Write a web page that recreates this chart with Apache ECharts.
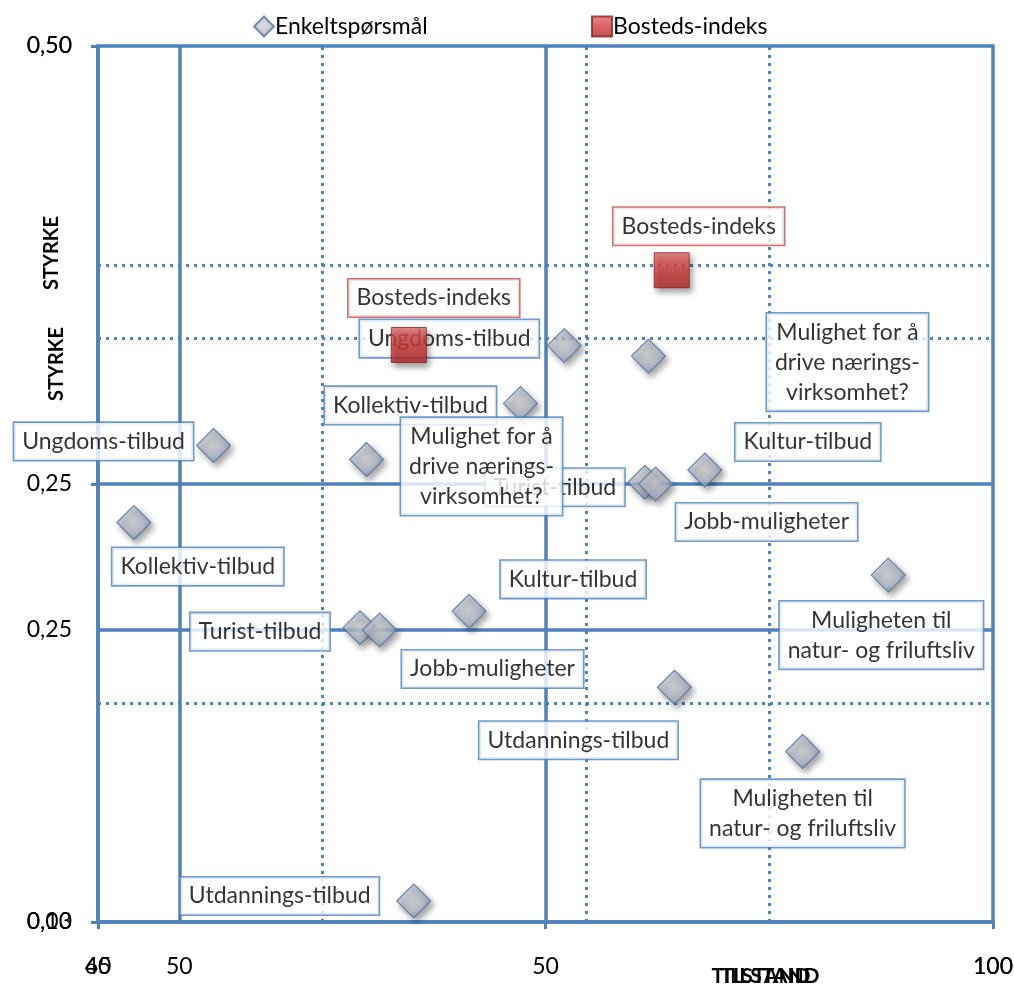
<!DOCTYPE html>
<html>
<head>
<meta charset="utf-8">
<script src="https://cdn.jsdelivr.net/npm/echarts@6/dist/echarts.min.js"></script>
<style>html,body{margin:0;padding:0;background:#fff}#c{width:1014px;height:984px}</style>
</head>
<body>
<div id="c"></div>
<script>
// ---- data ----
const categories = ['Ungdoms-tilbud','Kollektiv-tilbud','Mulighet for å drive nærings-virksomhet?','Turist-tilbud','Jobb-muligheter','Kultur-tilbud','Muligheten til natur- og friluftsliv','Utdannings-tilbud'];
const tilstand = [52.1, 47.2, 61.5, 61.1, 62.3, 67.8, 88.3, 64.4];
const styrke   = [0.329, 0.296, 0.323, 0.251, 0.250, 0.258, 0.198, 0.134];
const indexName = 'Bosteds-indeks';
const indexTilstand = [64.1];
const indexStyrke = [0.372];
const seriesNames = ['Enkeltspørsmål', 'Bosteds-indeks'];
// chart A (full scale) and chart B (zoomed scale), overlaid
const xRangeA = [0, 100], yRangeA = [0, 0.5];
const xRangeB = [45, 100], yRangeB = [0.125, 0.5];
const xTickLabelsA = {0:'60', 50:'50', 100:'100'};
const xTickValuesB = [45, 50, 100];
const yTickValuesB = [0.125, 0.25, 0.5];
const crossA = {x: 50, y: 0.25}, crossB = {x: 50, y: 0.25};
const gridXA = [25, 75], gridYA = [0.125, 0.375];
const gridXB = [75], gridYB = [0.375];
const axisTitleX = 'TILSTAND', axisTitleY = 'STYRKE';

// ---- styling (not data) ----
const wrapText = {
  'Mulighet for å drive nærings-virksomhet?': 'Mulighet for å\ndrive nærings-\nvirksomhet?',
  'Muligheten til natur- og friluftsliv': 'Muligheten til\nnatur- og friluftsliv'
};
const offA = [[-115,-7],[-110,2],[199,6],[-90,5],[111,38],[103,-28],[-7,60],[-96,53]];
const offB = [[-110,-4],[64,44],[115,7],[-100,4],[113,39],[104,-32],[0,62],[-134,-5]];
const offIdxA = [27,-44], offIdxB = [25,-47];

const FONT = 'Lato';
const BLUE = '#4f81bd';
const chart = echarts.init(document.getElementById('c'));
const fmtY = v => v.toFixed(2).replace('.', ',');
const gridRect = {left: 98, top: 46, width: 895, height: 876, outerBoundsMode: 'none'};

const labelBase = (borderColor) => ({
  show: true, position: 'inside', color: '#000', fontFamily: FONT, fontSize: 23,
  lineHeight: 30, align: 'center', verticalAlign: 'middle',
  backgroundColor: '#fff', borderColor: borderColor, borderWidth: 1.6, padding: [4, 8, 3, 8],
  formatter: p => wrapText[p.name] || p.name
});
const diamondStyle = {
  color: {type: 'radial', x: 0.45, y: 0.45, r: 0.6, colorStops: [{offset: 0, color: '#d4d4d4'}, {offset: 0.6, color: '#b3bccb'}, {offset: 1, color: '#7592be'}]},
  borderColor: '#58749e', borderWidth: 1.2,
  shadowBlur: 6, shadowColor: 'rgba(0,0,0,0.45)', shadowOffsetX: 3, shadowOffsetY: 4
};
const squareStyle = {
  color: {type: 'linear', x: 0, y: 0, x2: 0, y2: 1, colorStops: [{offset: 0, color: '#e46a6a'}, {offset: 0.5, color: '#d03a3a'}, {offset: 1, color: '#b02626'}]},
  borderColor: '#8c2020', borderWidth: 1,
  shadowBlur: 6, shadowColor: 'rgba(0,0,0,0.45)', shadowOffsetX: 3, shadowOffsetY: 4
};
function guideLines(xs, ys, type) {
  const ls = {color: BLUE, width: type === 'solid' ? 3.5 : 3, type: type === 'solid' ? 'solid' : [3, 5], cap: 'butt'};
  return xs.map(v => ({xAxis: v, lineStyle: ls})).concat(ys.map(v => ({yAxis: v, lineStyle: ls})));
}
function guideSeries(i, dotX, dotY, cross) {
  return {
    type: 'scatter', xAxisIndex: i, yAxisIndex: i, data: [], z: 0, silent: true,
    markLine: {silent: true, z: 0, precision: 6, symbol: 'none', label: {show: false}, animation: false,
      data: guideLines(dotX, dotY, 'dotted').concat(guideLines([cross.x], [cross.y], 'solid'))}
  };
}
function pointSeries(i, offs, zl) {
  return {
    name: seriesNames[0], type: 'scatter', xAxisIndex: i, yAxisIndex: i, zlevel: zl, z: 2,
    symbol: 'diamond', symbolSize: 34, itemStyle: diamondStyle,
    emphasis: {disabled: true},
    data: categories.map((c, k) => ({name: c, value: [tilstand[k], styrke[k]],
      label: Object.assign(labelBase(BLUE), {offset: offs[k]})}))
  };
}
function indexSeries(i, off, zl) {
  return {
    name: seriesNames[1], type: 'scatter', xAxisIndex: i, yAxisIndex: i, zlevel: zl, z: 2,
    symbol: 'rect', symbolSize: 35, itemStyle: squareStyle,
    emphasis: {disabled: true},
    data: indexTilstand.map((x, k) => ({name: indexName, value: [x, indexStyrke[k]],
      label: Object.assign(labelBase('#c0504d'), {offset: off})}))
  };
}
const axisLabelStyle = {color: '#000', fontFamily: FONT, fontSize: 23};

chart.setOption({
  animation: false,
  legend: [
    {data: [seriesNames[0]], left: 248, top: 10, itemWidth: 20, itemHeight: 20, itemGap: 4,
     textStyle: {fontFamily: FONT, fontSize: 23, color: '#000', padding: [0, 0, 0, -4]}, selectedMode: false},
    {data: [seriesNames[1]], left: 586, top: 10, itemWidth: 20, itemHeight: 20, itemGap: 4,
     textStyle: {fontFamily: FONT, fontSize: 23, color: '#000', padding: [0, 0, 0, -4]}, selectedMode: false}
  ],
  grid: [
    Object.assign({show: true, borderColor: BLUE, borderWidth: 3.5, backgroundColor: 'transparent'}, gridRect),
    Object.assign({show: false}, gridRect)
  ],
  xAxis: [
    {type: 'value', gridIndex: 0, min: xRangeA[0], max: xRangeA[1], interval: 50,
     splitLine: {show: false}, axisLine: {show: true, lineStyle: {color: BLUE, width: 3.5}},
     axisTick: {show: true, length: 7, lineStyle: {color: BLUE, width: 3}},
     axisLabel: Object.assign({margin: 33, formatter: v => xTickLabelsA[v] ?? ''}, axisLabelStyle)},
    {type: 'value', gridIndex: 1, min: xRangeB[0], max: xRangeB[1],
     splitLine: {show: false}, axisLine: {show: false}, axisTick: {show: false},
     axisLabel: Object.assign({margin: 33, customValues: xTickValuesB, formatter: v => String(v)}, axisLabelStyle)}
  ],
  yAxis: [
    {type: 'value', gridIndex: 0, min: yRangeA[0], max: yRangeA[1], interval: 0.25,
     splitLine: {show: false}, axisLine: {show: true, lineStyle: {color: BLUE, width: 3.5}},
     axisTick: {show: true, length: 7, lineStyle: {color: BLUE, width: 3}},
     axisLabel: Object.assign({margin: 26, formatter: fmtY}, axisLabelStyle)},
    {type: 'value', gridIndex: 1, min: yRangeB[0], max: yRangeB[1],
     splitLine: {show: false}, axisLine: {show: false}, axisTick: {show: false},
     axisLabel: Object.assign({margin: 26, customValues: yTickValuesB, formatter: fmtY}, axisLabelStyle)}
  ],
  graphic: [
    {type: 'text', x: 761, y: 976, z: 10, style: {text: axisTitleX, align: 'center', verticalAlign: 'middle', font: 'bold 21px ' + FONT, fill: '#000'}},
    {type: 'text', x: 770, y: 976, z: 10, style: {text: axisTitleX, align: 'center', verticalAlign: 'middle', font: 'bold 21px ' + FONT, fill: '#000'}},
    {type: 'text', x: 52, y: 253, rotation: Math.PI / 2, z: 10, style: {text: axisTitleY, align: 'center', verticalAlign: 'middle', font: 'bold 20px ' + FONT, fill: '#000'}},
    {type: 'text', x: 57, y: 364, rotation: Math.PI / 2, z: 10, style: {text: axisTitleY, align: 'center', verticalAlign: 'middle', font: 'bold 20px ' + FONT, fill: '#000'}}
  ],
  series: [
    guideSeries(0, gridXA, gridYA, crossA),
    guideSeries(1, gridXB, gridYB, crossB),
    pointSeries(0, offA, 1),
    indexSeries(0, offIdxA, 1),
    pointSeries(1, offB, 2),
    indexSeries(1, offIdxB, 2)
  ]
});
</script>
</body>
</html>
